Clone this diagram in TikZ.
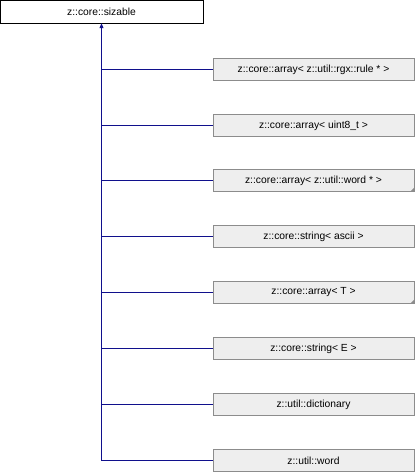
\documentclass[tikz,border=0pt]{standalone}
\usepackage{fontspec}
\setmainfont{Liberation Sans}
\usetikzlibrary{arrows.meta}
\definecolor{linkblue}{HTML}{10108C}
\definecolor{boxfill}{HTML}{EEEEEE}
\definecolor{boxline}{HTML}{8C8C8C}
\begin{document}
\begin{tikzpicture}[x=1pt, y=-1pt,
    base/.style={rectangle, draw=black, fill=white, minimum width=203pt, minimum height=23pt, inner sep=0pt, font=\fontsize{10.3}{12}\selectfont},
    derived/.style={rectangle, draw=boxline, fill=boxfill, minimum width=201pt, minimum height=22pt, inner sep=0pt, font=\fontsize{10.3}{12}\selectfont},
    link/.style={draw=linkblue, line width=1pt},
    arrow/.style={link, -{Triangle[width=4pt, length=5pt]}}
]
\useasboundingbox (0,0) rectangle (416,472);
% Base class on top
\node[base] (sizable) at (101.5,11.5) {z::core::sizable};
% Derived classes from top to bottom
\node[derived] (rgxarray) at (313.5,69.5) {z::core::array< z::util::rgx::rule * >};
\node[derived] (bytearray) at (313.5,125.5) {z::core::array< uint8\_t >};
\node[derived] (wordarray) at (313.5,180.5) {z::core::array< z::util::word * >};
\node[derived] (asciistring) at (313.5,236.5) {z::core::string< ascii >};
\node[derived] (tarray) at (313.5,292.5) {z::core::array< T >};
\node[derived] (estring) at (313.5,348.5) {z::core::string< E >};
\node[derived] (dictionary) at (313.5,404.5) {z::util::dictionary};
\node[derived] (word) at (313.5,460.5) {z::util::word};
% Template markers
\fill[boxline] (wordarray.south east) -- ++(-4,0) -- ++(4,-4) -- cycle;
\fill[boxline] (tarray.south east) -- ++(-4,0) -- ++(4,-4) -- cycle;
% Inheritance links
\coordinate (trunk) at (word.west -| sizable.south);
\draw[link] (rgxarray.west) -- (rgxarray.west -| sizable.south)
    (bytearray.west) -- (bytearray.west -| sizable.south)
    (wordarray.west) -- (wordarray.west -| sizable.south)
    (asciistring.west) -- (asciistring.west -| sizable.south)
    (tarray.west) -- (tarray.west -| sizable.south)
    (estring.west) -- (estring.west -| sizable.south)
    (dictionary.west) -- (dictionary.west -| sizable.south)
    (word.west) -- (trunk);
\draw[arrow] (trunk) -- (sizable.south);
\end{tikzpicture}
\end{document}
